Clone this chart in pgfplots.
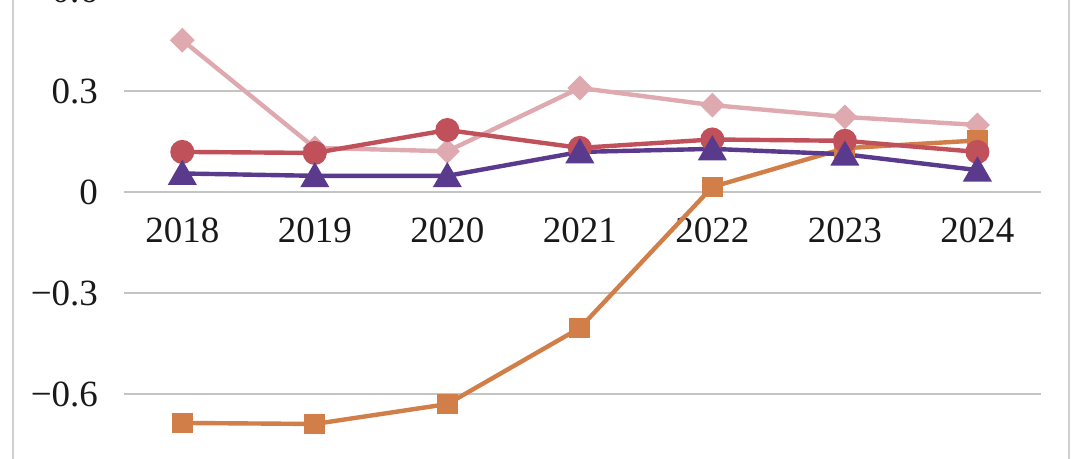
\documentclass[border=0pt]{standalone}
\usepackage{pgfplots}
\pgfplotsset{compat=1.18}
\usepackage{fontspec}
\setmainfont{Liberation Serif}
\definecolor{cpink}{HTML}{DFA9B0}
\definecolor{cred}{HTML}{C0505A}
\definecolor{cpurple}{HTML}{5A3A8C}
\definecolor{corange}{HTML}{D27E48}
\definecolor{cgrid}{HTML}{C4C4C4}
\definecolor{cframe}{HTML}{D0D0D0}
\begin{document}
\begin{tikzpicture}
\path[use as bounding box] (-62pt,18pt) rectangle (478pt,247.5pt);
\clip (-62pt,18pt) rectangle (478pt,247.5pt);
\begin{axis}[
  scale only axis, width=458.5pt, height=252.5pt,
  xmin=-0.44, xmax=6.48, ymin=-0.9, ymax=0.6,
  axis x line=middle, axis y line=left,
  axis line style={draw=none},
  major tick length=0pt,
  xtick={0,1,2,3,4,5,6},
  xticklabels={2018,2019,2020,2021,2022,2023,2024},
  ytick={-0.9,-0.6,-0.3,0,0.3,0.6},
  yticklabels={,−0.6,−0.3,0,0.3,0.6},
  ymajorgrids,
  major grid style={draw=cgrid, line width=1pt},
  ticklabel style={font=\fontsize{18.5}{21}\selectfont, text=black!90},
  xticklabel style={yshift=-9.5pt},
  yticklabel style={xshift=-9.5pt},
  clip=false,
]
\addplot[cpink, line width=2.2pt, mark=square*, mark size=3.3pt, mark options={rotate=45, draw=none, fill=cpink}]
  coordinates {(0,0.451)(1,0.131)(2,0.121)(3,0.309)(4,0.258)(5,0.223)(6,0.199)};
\addplot[corange, line width=2.2pt, mark=square*, mark size=4.1pt, mark options={draw=none, fill=corange}]
  coordinates {(0,-0.686)(1,-0.689)(2,-0.630)(3,-0.404)(4,0.015)(5,0.130)(6,0.153)};
\addplot[cred, line width=2.2pt, mark=*, mark size=4.9pt, mark options={draw=none, fill=cred}]
  coordinates {(0,0.119)(1,0.116)(2,0.184)(3,0.131)(4,0.156)(5,0.152)(6,0.119)};
\addplot[cpurple, line width=2.2pt, mark=triangle*, mark size=6.2pt, mark options={draw=none, fill=cpurple, yshift=-1.5pt}]
  coordinates {(0,0.055)(1,0.048)(2,0.048)(3,0.119)(4,0.128)(5,0.112)(6,0.065)};
\end{axis}
\draw[cframe, line width=0.8pt] (-55.5pt,-20pt) -- (-55.5pt,300pt);
\draw[cframe, line width=0.8pt] (472.5pt,-20pt) -- (472.5pt,300pt);
\end{tikzpicture}
\end{document}
